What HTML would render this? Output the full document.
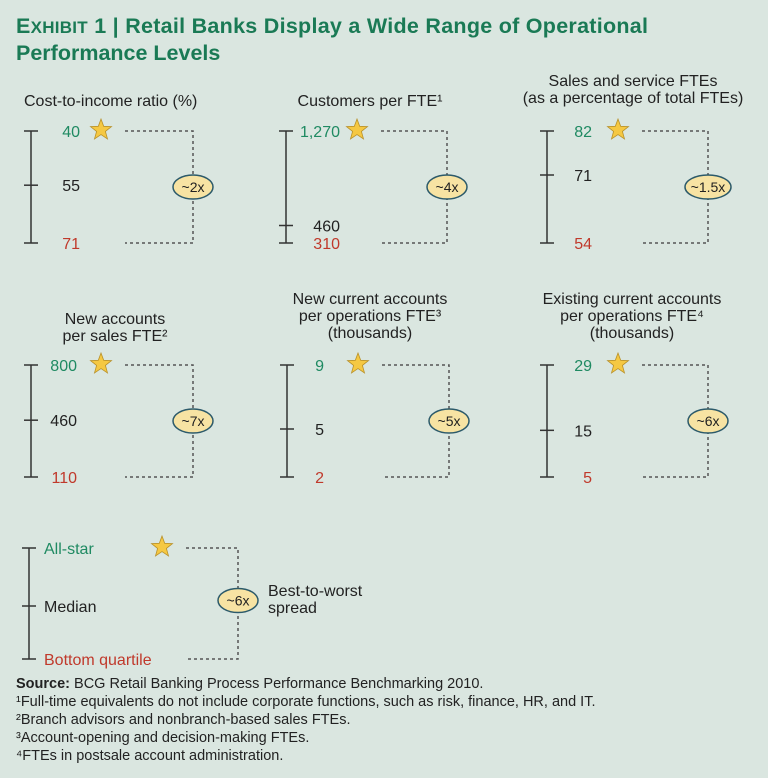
<!DOCTYPE html>
<html><head><meta charset="utf-8"><style>
html,body{margin:0;padding:0;background:#dae6e0;}
svg{display:block;font-family:"Liberation Sans","DejaVu Sans",sans-serif;}
</style></head><body>
<svg id="c" width="768" height="778" viewBox="0 0 768 778">
<rect x="0" y="0" width="768" height="778" fill="#dae6e0"/>
<text x="16" y="33" font-size="21.5" font-weight="bold" fill="#1a7a55" textLength="632">E<tspan font-size="17">XHIBIT</tspan> 1 | Retail Banks Display a Wide Range of Operational</text>
<text x="16" y="60" font-size="21.5" font-weight="bold" fill="#1a7a55">Performance Levels</text>
<g id="panels"></g>
<g id="legend"></g>
<g font-size="14.5" fill="#222">
<text x="16" y="688"><tspan font-weight="bold">Source:</tspan> BCG Retail Banking Process Performance Benchmarking 2010.</text>
<text x="16" y="706">¹Full-time equivalents do not include corporate functions, such as risk, finance, HR, and IT.</text>
<text x="16" y="724">²Branch advisors and nonbranch-based sales FTEs.</text>
<text x="16" y="742">³Account-opening and decision-making FTEs.</text>
<text x="16" y="760">⁴FTEs in postsale account administration.</text>
</g>
</svg>
<script>
const panelTitles = [
  ["Cost-to-income ratio (%)"],
  ["Customers per FTE¹"],
  ["Sales and service FTEs","(as a percentage of total FTEs)"],
  ["New accounts","per sales FTE²"],
  ["New current accounts","per operations FTE³","(thousands)"],
  ["Existing current accounts","per operations FTE⁴","(thousands)"]
];
const allStar = [40, 1270, 82, 800, 9, 29];
const median = [55, 460, 71, 460, 5, 15];
const bottomQuartile = [71, 310, 54, 110, 2, 5];
const valueLabels = [["40","55","71"],["1,270","460","310"],["82","71","54"],["800","460","110"],["9","5","2"],["29","15","5"]];
const spreadLabels = ["~2x","~4x","~1.5x","~7x","~5x","~6x"];

const NS = "http://www.w3.org/2000/svg";
function el(tag, attrs, parent, txt){const e=document.createElementNS(NS,tag);for(const k in attrs)e.setAttribute(k,attrs[k]);if(txt!==undefined)e.textContent=txt;parent.appendChild(e);return e;}
function starPts(cx,cy,R,r){let p=[];for(let i=0;i<10;i++){const a=-Math.PI/2+i*Math.PI/5;const rr=i%2?r:R;p.push((cx+rr*Math.cos(a)).toFixed(1)+","+(cy+rr*Math.sin(a)).toFixed(1));}return p.join(" ");}

const layout = [
  {ax:31,valEnd:80,star:101,dashX:193,top:131,bot:243,title:{anchor:"start",x:24,y:106}},
  {ax:286,valEnd:340,star:357,dashX:447,top:131,bot:243,title:{anchor:"middle",x:370,y:106}},
  {ax:547,valEnd:592,star:618,dashX:708,top:131,bot:243,title:{anchor:"middle",x:633,y:86}},
  {ax:31,valEnd:77,star:101,dashX:193,top:365,bot:477,title:{anchor:"middle",x:115,y:324}},
  {ax:287,valEnd:324,star:358,dashX:449,top:365,bot:477,title:{anchor:"middle",x:370,y:304}},
  {ax:547,valEnd:592,star:618,dashX:708,top:365,bot:477,title:{anchor:"middle",x:632,y:304}}
];
const panels = document.getElementById("panels");
function drawBracket(g, L, yTop, yMed, yBot, labels, spread, i){
  const axis = el("line",{x1:L.ax,y1:yTop,x2:L.ax,y2:yBot,stroke:"#333","stroke-width":1.5},g);
  
  
  [yTop,yMed,yBot].forEach(y=>{const t=el("line",{x1:L.ax-7,y1:y,x2:L.ax+7,y2:y,stroke:"#333","stroke-width":1.5},g);
    
    });
  const cols=["#1f8a62","#222","#c0392b"];const ys=[yTop,yMed,yBot];const names=["all-star-value","median-value","bottom-quartile-value"];
  ys.forEach((y,k)=>{const t=el("text",{x:L.valEnd,y:y+6,"text-anchor":L.anchorStart?"start":"end","font-size":16,fill:cols[k]},g,labels[k]);
    
    });
  const s=el("polygon",{points:starPts(L.star,yTop-1,11,4.6),fill:"#f5c842",stroke:"#b8912a","stroke-width":0.8},g);
  
  
  const d=el("path",{d:`M${L.star+24},${yTop} H${L.dashX} V${yBot} H${L.star+24}`,fill:"none",stroke:"#555","stroke-width":1.5,"stroke-dasharray":"3,3"},g);
  
  
  const my=(yTop+yBot)/2+ (L.ovalDy||0);
  const w = spread.length>3?46:40;
  const o=el("ellipse",{cx:L.dashX,cy:my,rx:w/2,ry:12,fill:"#f7e3a3",stroke:"#2c5a6a","stroke-width":1.5},g);
  
  
  const ot=el("text",{x:L.dashX,y:my+5,"text-anchor":"middle","font-size":14,fill:"#222"},g,spread);
  
  
}
for(let i=0;i<6;i++){
  const L=layout[i];
  const g=el("g",{},panels);
  
  
  const yScale=v=>L.top+(v-allStar[i])/(bottomQuartile[i]-allStar[i])*(L.bot-L.top);
  panelTitles[i].forEach((line,k)=>{const t=el("text",{x:L.title.x,y:L.title.y+k*17,"text-anchor":L.title.anchor,"font-size":16,fill:"#222"},g,line);
    
    });
  drawBracket(g,L,yScale(allStar[i]),yScale(median[i]),yScale(bottomQuartile[i]),valueLabels[i],spreadLabels[i],i);
}
const lg=document.getElementById("legend");
drawBracket(lg,{ax:29,valEnd:44,anchorStart:true,star:162,dashX:238,ovalDy:-3},548,606,659,["All-star","Median","Bottom quartile"],"~6x");
const b1=el("text",{x:268,y:596,"font-size":16,fill:"#222"},lg,"Best-to-worst");


const b2=el("text",{x:268,y:613,"font-size":16,fill:"#222"},lg,"spread");


</script>
</body></html>
